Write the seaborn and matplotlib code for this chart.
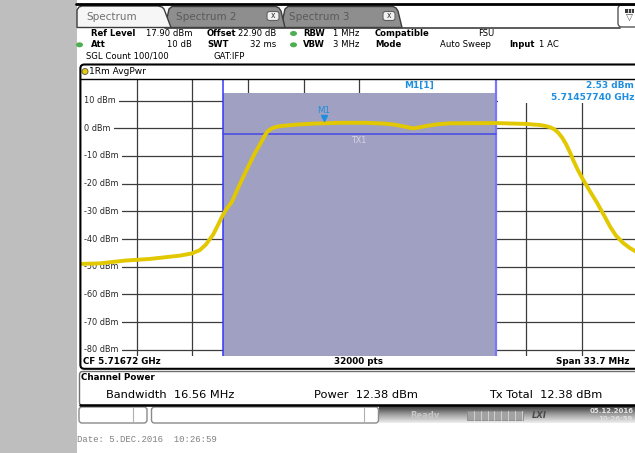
import numpy as np
import pandas as pd
import matplotlib
matplotlib.use("Agg")
import matplotlib.pyplot as plt
import matplotlib.transforms as mtransforms
from matplotlib.patches import Rectangle, FancyBboxPatch, Polygon, Ellipse, Circle
from matplotlib.colors import LinearSegmentedColormap
import seaborn as sns

sns.set_style("white")
plt.rcParams["font.family"] = ["DejaVu Sans"]

# trace (frequency in GHz, level in dBm)
trace_ghz = [5.69986, 5.70101, 5.70253, 5.70404, 5.70495, 5.70586, 5.70659,
             5.70707, 5.70743, 5.70786, 5.70816, 5.70840, 5.70864, 5.70901,
             5.70931, 5.70962, 5.70998, 5.71040, 5.71083, 5.71101, 5.71119,
             5.71144, 5.71168, 5.71192, 5.71283, 5.71392, 5.71556, 5.71707,
             5.71828, 5.71889, 5.71949, 5.71998, 5.72040, 5.72083, 5.72150,
             5.72222, 5.72501, 5.72677, 5.72768, 5.72804, 5.72829, 5.72853,
             5.72877, 5.72901, 5.72926, 5.72950, 5.72968, 5.72998, 5.73029,
             5.73071, 5.73114, 5.73156, 5.73192, 5.73228, 5.73271, 5.73313,
             5.73356]
trace_dbm = [-49.0, -48.8, -47.8, -47.2, -46.6, -46.0, -45.2,
             -44.0, -42.0, -38.5, -35.0, -32.0, -29.5, -26.5,
             -22.5, -18.5, -14.0, -9.0, -4.5, -2.5, -1.0,
             0.0, 0.5, 0.8, 1.3, 1.7, 2.0, 2.0,
             1.7, 1.3, 0.6, 0.0, 0.4, 0.9, 1.5,
             1.8, 1.9, 1.6, 1.2, 0.8, 0.4, -0.3,
             -1.5, -3.3, -5.8, -8.8, -11.4, -15.2, -18.6,
             -22.8, -27.0, -31.5, -35.5, -38.8, -41.4, -43.3,
             -44.8]

level_ticks = [10, 0, -10, -20, -30, -40, -50, -60, -70, -80]
level_labels = [f"{v} dBm" for v in level_ticks]
ref_level_dbm = 17.90
range_db = 100
cf_ghz = 5.71672
span_mhz = 33.7
chan_bw_mhz = 16.56
tx1_dbm = -2.1
m1_ghz = 5.71457740
m1_dbm = 2.53

W, H = 635, 453
BLUE_TXT = "#1E8FE0"

fig = plt.figure(figsize=(W / 100, H / 100), dpi=100)
fig.patch.set_facecolor("white")

bg = fig.add_axes([0, 0, 1, 1])
bg.axis("off")


def txt(a, x, y, s, size=6.1, bold=False, **kw):
    kw.setdefault("ha", "left")
    kw.setdefault("va", "center")
    kw.setdefault("color", "black")
    return a.text(x, y, s, fontsize=size,
                  fontweight="bold" if bold else "normal", **kw)


# ---------- background: side strip, tabs, header ----------
bg.add_patch(Rectangle((0, 0), 76.5, H, fc="#BEBEBE", ec="none"))
bg.plot([76, W], [4, 4], color="black", lw=2)

tab2 = [(165, 27.5), (169, 9), (172, 6.5), (276, 6.5), (279, 8), (281, 11), (285, 27.5)]
tab3 = [(281, 27.5), (285, 9), (288, 6.5), (393, 6.5), (396, 8), (398, 11), (402, 27.5)]
tab1 = [(77, 27.5), (77, 10), (79, 7), (82, 6), (158, 6), (162, 7), (164, 9), (171, 27.5)]
for pts in (tab3, tab2):
    bg.add_patch(Polygon(pts, closed=True, fc="#8E8E8E", ec="#3c3c3c", lw=1))
bg.add_patch(Polygon(tab1, closed=True, fc="#F6F6F6", ec="#3c3c3c", lw=1))
bg.plot([165, 620], [27.5, 27.5], color="#404040", lw=1.2)
txt(bg, 86, 16.5, "Spectrum", 7.5, color="#707070")
txt(bg, 176, 16.5, "Spectrum 2", 7.5, color="#5A5A5A")
txt(bg, 289, 16.5, "Spectrum 3", 7.5, color="#5A5A5A")
for bx in (267, 383):
    bg.add_patch(FancyBboxPatch((bx, 11.5), 12, 9, boxstyle="round,pad=0,rounding_size=2.5",
                                fc="#F2F2F2", ec="#606060", lw=0.8))
    txt(bg, bx + 6, 15.8, "x", 5.5, ha="center", color="#333333")
bg.add_patch(FancyBboxPatch((618, 5), 30, 22, boxstyle="round,pad=0,rounding_size=4",
                            fc="white", ec="#555555", lw=1))
bg.add_patch(Rectangle((625, 8.5), 9, 4, fc="#3a3a3a", ec="none"))
for sx in (628, 631):
    bg.plot([sx, sx], [9, 12], color="white", lw=0.6)
txt(bg, 629.5, 18.5, "\u25bd", 6.5, ha="center", color="#444444")

r1, r2, r3 = 33.5, 44.8, 56.2
for x, y, s, b, ha in [
    (91, r1, "Ref Level", True, "left"), (192, r1, "17.90 dBm", False, "right"),
    (207, r1, "Offset", True, "left"), (276, r1, "22.90 dB", False, "right"),
    (303, r1, "RBW", True, "left"), (333, r1, "1 MHz", False, "left"),
    (375, r1, "Compatible", True, "left"), (478, r1, "FSU", False, "left"),
    (91, r2, "Att", True, "left"), (192, r2, "10 dB", False, "right"),
    (207, r2, "SWT", True, "left"), (276, r2, "32 ms", False, "right"),
    (303, r2, "VBW", True, "left"), (333, r2, "3 MHz", False, "left"),
    (375, r2, "Mode", True, "left"), (440, r2, "Auto Sweep", False, "left"),
    (509, r2, "Input", True, "left"), (539, r2, "1 AC", False, "left"),
    (86, r3, "SGL Count 100/100", False, "left"), (213, r3, "GAT:IFP", False, "left"),
]:
    txt(bg, x, y, s, bold=b, ha=ha)
for x, y in [(79.5, r2), (293.5, r1), (293.5, r2)]:
    bg.add_patch(Ellipse((x, y), 7, 5, fc="#4CB050", ec="none"))

# diagram box and title
bg.add_patch(Circle((85, 71.5), 3, fc="#E8CC00", ec="#555555", lw=0.6))
txt(bg, 89, 71.5, "1Rm AvgPwr", 6.5)
txt(bg, 83, 362, "CF 5.71672 GHz", 6.3, True)
txt(bg, 358, 362, "32000 pts", 6.3, True, ha="center")
txt(bg, 629, 362, "Span 33.7 MHz", 6.3, True, ha="right")

# channel power table
bg.add_patch(FancyBboxPatch((79.5, 371.5), 570, 34, boxstyle="round,pad=0,rounding_size=3",
                            fc="none", ec="#707070", lw=1))
bg.plot([79.5, W], [405.3, 405.3], color="black", lw=1.8)
txt(bg, 81, 377.5, "Channel Power", 6.3, True)
txt(bg, 105.5, 395, "Bandwidth  16.56 MHz", 8.2)
txt(bg, 313.5, 395, "Power  12.38 dBm", 8.2)
txt(bg, 489, 395, "Tx Total  12.38 dBm", 8.2)

# status bar
bg.add_patch(FancyBboxPatch((79, 407), 68, 16, boxstyle="round,pad=0,rounding_size=3",
                            fc="white", ec="#8A8A8A", lw=1))
bg.add_patch(FancyBboxPatch((151.5, 407), 227, 16, boxstyle="round,pad=0,rounding_size=3",
                            fc="white", ec="#8A8A8A", lw=1))
bg.plot([133, 133], [408, 422], color="#B0B0B0", lw=0.8)
bg.plot([364, 364], [408, 422], color="#B0B0B0", lw=0.8)
grad = LinearSegmentedColormap.from_list("bar", ["#2E2E2E", "#9A9A9A", "#EEEEEE"])
bg.imshow(np.linspace(0, 1, 40).reshape(-1, 1), cmap=grad, aspect="auto",
          extent=[379, 640, 423.5, 406])
bg.add_patch(Rectangle((467, 410.5), 56, 9.5, fc="#A2A2A2", ec="#8A8A8A", lw=0.6))
for sx in np.arange(474, 522, 6.8):
    bg.plot([sx, sx], [411, 419.5], color="#D8D8D8", lw=0.6)
txt(bg, 410, 415, "Ready", 6, True, color="#C8C8C8")
txt(bg, 539.5, 415, "LXI", 6, True, ha="center", color="#4A4A4A", style="italic")
txt(bg, 611.5, 411, "05.12.2016", 5, True, ha="center", color="#E4E4E4")
txt(bg, 633, 419, "10:26:59", 5, True, ha="right", color="#DDDDDD")

txt(bg, 77, 440, "Date: 5.DEC.2016  10:26:59", 6.5, color="#808080",
    family="Liberation Mono")

bg.set_xlim(0, W)
bg.set_ylim(H, 0)

# ---------- measurement diagram ----------
PX_L, PX_R, PX_T, PX_B = 81.1, 637.3, 78.8, 355.5
ax = fig.add_axes([PX_L / W, 1 - PX_B / H, (PX_R - PX_L) / W, (PX_B - PX_T) / H])
ax.set_facecolor("white")
half_span = span_mhz / 2000
ax.set_xlim(cf_ghz - half_span, cf_ghz + half_span)
ax.set_ylim(ref_level_dbm - range_db, ref_level_dbm)
ax.set_xticks([])
ax.set_yticks([])
for s in ax.spines.values():
    s.set_visible(False)

grid_c = "#3C3C3C"
div = span_mhz / 10 / 1000
for k in range(-4, 5):
    ax.axvline(cf_ghz + k * div, color=grid_c, lw=0.9, zorder=1)
for v in level_ticks:
    ax.axhline(v, color=grid_c, lw=0.9, zorder=1)

lab_tf = mtransforms.blended_transform_factory(bg.transData, ax.transData)
for v, lab in zip(level_ticks, level_labels):
    ax.text(84.5, v, lab, transform=lab_tf, fontsize=5.9, ha="left", va="center",
            bbox=dict(fc="white", ec="none", pad=2.2), zorder=3, clip_on=False)

ch_lo = cf_ghz - chan_bw_mhz / 2000
ch_hi = cf_ghz + chan_bw_mhz / 2000
ax.axvspan(ch_lo, ch_hi, ymin=0, ymax=(PX_B - 93.3) / (PX_B - PX_T),
           color="#A0A0C2", lw=0, zorder=2)
ax.axvline(ch_lo, color="#3535FF", lw=1.1, zorder=4)
ax.axvline(ch_hi, color="#7878FF", lw=1.6, zorder=4)
ax.plot([ch_lo, ch_hi], [tx1_dbm, tx1_dbm], color="#4646E6", lw=1.1, zorder=4)
ax.text(cf_ghz, tx1_dbm, "TX1", fontsize=5.8, color="#D4D4E6", ha="center", va="center",
        transform=mtransforms.offset_copy(ax.transData, fig=fig, y=-6.5, units="dots"),
        zorder=4)

trace = pd.DataFrame({"freq_ghz": trace_ghz, "level_dbm": trace_dbm})
sns.lineplot(data=trace, x="freq_ghz", y="level_dbm", ax=ax, color="#E2C800",
             linewidth=2.8, estimator=None, sort=False, zorder=5)
ax.set_xlabel("")
ax.set_ylabel("")

ax.plot([m1_ghz], [m1_dbm], marker="v", ms=5, color=BLUE_TXT, ls="none", zorder=6,
        transform=mtransforms.offset_copy(ax.transData, fig=fig, y=3.5, units="dots"))
ax.text(m1_ghz, m1_dbm, "M1", fontsize=6.2, color=BLUE_TXT, ha="center", va="center",
        transform=mtransforms.offset_copy(ax.transData, fig=fig, y=11, units="dots"),
        zorder=6)

# ---------- overlay: frame lines and marker readout ----------
ov = fig.add_axes([0, 0, 1, 1])
ov.axis("off")
ov.add_patch(Rectangle((362, 79.5), 132, 13.3, fc="white", ec="none"))
ov.add_patch(Rectangle((498, 79.5), 145, 23, fc="white", ec="none"))
ov.add_patch(FancyBboxPatch((80.4, 64.5), 570, 304.3, boxstyle="round,pad=0,rounding_size=4",
                            fc="none", ec="black", lw=1.5))
ov.plot([80.4, W], [78.8, 78.8], color="black", lw=1)
txt(ov, 419, 85.5, "M1[1]", 6.5, True, ha="center", color=BLUE_TXT)
txt(ov, 634, 85.5, "2.53 dBm", 6.5, True, ha="right", color=BLUE_TXT)
txt(ov, 634, 97, "5.71457740 GHz", 6.5, True, ha="right", color=BLUE_TXT)
ov.set_xlim(0, W)
ov.set_ylim(H, 0)

fig.savefig("out.png", dpi=100)
